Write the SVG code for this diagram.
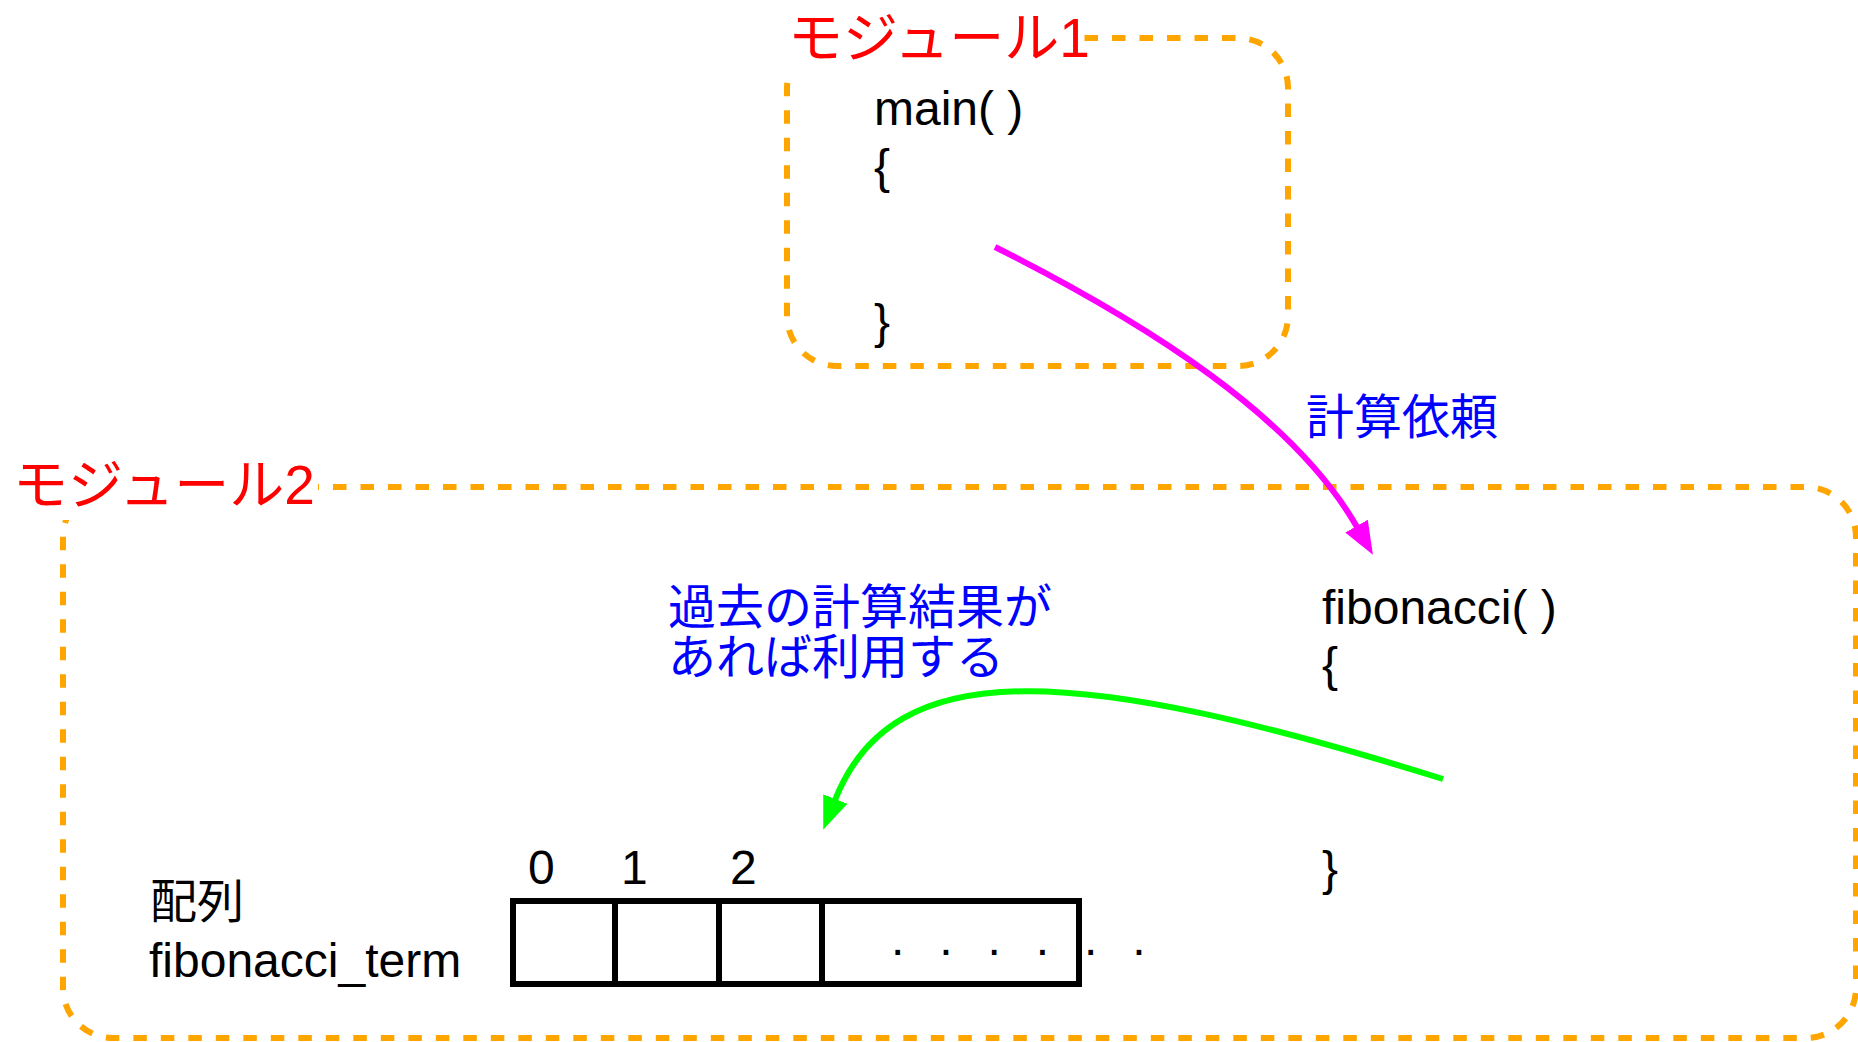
<svg xmlns="http://www.w3.org/2000/svg" width="1858" height="1042" viewBox="0 0 1858 1042">
<style>
.box{fill:none;stroke:#FFA500;stroke-width:6;stroke-dasharray:13.5 14}
.bg{fill:#FFFFFF;stroke:none}
.mod{font-family:"Liberation Sans","Noto Sans CJK JP",sans-serif;font-size:55px;fill:#FF0000}
.code{font-family:"Liberation Sans",sans-serif;font-size:48px;fill:#000000}
.jp{font-family:"Liberation Sans","Noto Sans CJK JP",sans-serif;font-size:47px;fill:#000000}
.note{font-family:"Noto Sans CJK JP",sans-serif;font-size:48px;fill:#0000FF}
.cell{fill:none;stroke:#000000;stroke-width:6}
.call{fill:none;stroke:#FF00FF;stroke-width:6}
.use{fill:none;stroke:#00FF00;stroke-width:6}
</style>
<defs>
<marker id="headM" markerUnits="userSpaceOnUse" markerWidth="34" markerHeight="28" viewBox="0 0 34 28" refX="1" refY="14" orient="auto">
<path d="M0,1 L33,14 L0,27 z" fill="#FF00FF"/>
</marker>
<marker id="headG" markerUnits="userSpaceOnUse" markerWidth="34" markerHeight="28" viewBox="0 0 34 28" refX="1" refY="14" orient="auto">
<path d="M0,1 L33,14 L0,27 z" fill="#00FF00"/>
</marker>
</defs>
<rect width="1858" height="1042" fill="#FFFFFF"/>

<g id="module2">
<rect class="box" x="63" y="487" width="1793" height="551" rx="50" ry="50"/>
<rect class="bg" x="0" y="440" width="318" height="80"/>
<text class="mod" x="13" y="504">モジュール2</text>
</g>

<g id="module1">
<rect class="box" x="787" y="38" width="501" height="328" rx="50" ry="50"/>
<rect class="bg" x="770" y="0" width="314" height="70"/>
<text class="mod" x="788" y="57">モジュール1</text>
</g>

<g id="main">
<text class="code" x="874" y="125">main( )</text>
<text class="code" x="874" y="183">{</text>
<text class="code" x="874" y="338">}</text>
</g>

<g id="fibonacci">
<text class="code" x="1322" y="624">fibonacci( )</text>
<text class="code" x="1322" y="681">{</text>
<text class="code" x="1322" y="885">}</text>
</g>

<g id="array">
<text class="jp" x="150" y="918">配列</text>
<text class="code" x="149" y="977">fibonacci_term</text>
<text class="code" x="528" y="884">0</text>
<text class="code" x="621" y="884">1</text>
<text class="code" x="730" y="884">2</text>
<rect class="cell" x="513" y="901" width="566" height="83"/>
<line class="cell" x1="615" y1="901" x2="615" y2="984"/>
<line class="cell" x1="719" y1="901" x2="719" y2="984"/>
<line class="cell" x1="822" y1="901" x2="822" y2="984"/>
<text class="code" x="891" y="955" letter-spacing="34.9">......</text>
</g>

<g id="connectors">
<path class="call" d="M995,247 C1150,325 1294,417 1357,527" marker-end="url(#headM)"/>
<text class="note" x="1306" y="434">計算依頼</text>
<path class="use" d="M1443,779 C1080,666 894,651 835,800" marker-end="url(#headG)"/>
<text class="note"><tspan x="668" y="624">過去の計算結果が</tspan><tspan x="668" y="674">あれば利用する</tspan></text>
</g>
</svg>
